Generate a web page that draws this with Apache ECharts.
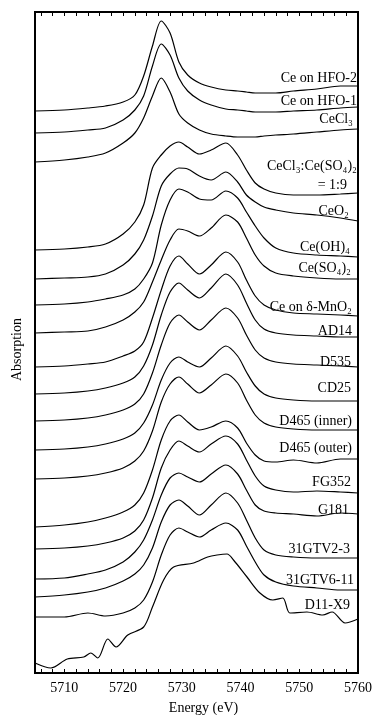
<!DOCTYPE html>
<html>
<head>
<meta charset="utf-8">
<script src="https://cdn.jsdelivr.net/npm/echarts@6/dist/echarts.min.js"></script>
<style>
  html, body { margin: 0; padding: 0; background: #fff; }
  #chart { width: 374px; height: 715px; }
</style>
</head>
<body>
<div id="chart"></div>
<script>
// Ce L3-edge XANES, stacked (arbitrary absorption units incl. offsets)
const energy = [5705, 5710, 5714, 5717, 5720, 5722, 5723.5, 5725, 5726.5, 5728, 5729.5, 5731,
                5733, 5735, 5737.5, 5739.5, 5741, 5742.5, 5744, 5746, 5749, 5753, 5757, 5760];

const hfo2     = [562, 563, 565, 567, 571, 578, 597, 627, 652, 640, 611, 598, 590, 586, 583, 582, 581, 580, 580, 580, 582, 584, 587, 587];
const hfo1     = [540, 541, 543, 545, 553, 563, 577, 607, 629, 618, 595, 582, 573, 568, 564, 563, 562, 561, 561, 561, 562, 563, 565, 566];
const cecl3    = [511, 513, 516, 520, 530, 540, 555, 577, 595, 581, 559, 550, 543, 539, 537, 536, 536, 536, 537, 538, 539, 541, 543, 544];
const mix19    = [423, 424, 426, 429, 439, 451, 468, 505, 518, 527, 531, 526, 519, 523, 530, 518, 503, 490, 484, 480, 478, 478, 479, 480];
const ceo2     = [394, 395, 396, 399, 408, 419, 433, 457, 487, 499, 505, 504, 497, 493, 501, 491, 478, 471, 466, 463, 460, 458, 455, 452];
const ceoh4    = [368, 369, 371, 374, 378, 384, 394, 410, 448, 473, 484, 481, 474, 473, 482, 475, 461, 447, 435, 425, 420, 418, 417, 416];
const ceso42   = [340, 341, 342, 346, 353, 361, 371, 391, 413, 433, 444, 442, 437, 445, 458, 451, 435, 418, 407, 400, 397, 395, 394, 394];
const mno2     = [306, 307, 309, 311, 317, 322, 331, 355, 383, 407, 417, 409, 399, 408, 421, 411, 393, 377, 368, 363, 360, 359, 358, 357];
const ad14     = [279, 280, 282, 285, 290, 296, 307, 328, 358, 381, 390, 383, 375, 385, 399, 388, 370, 353, 344, 340, 338, 337, 336, 336];
const d535     = [252, 253, 255, 258, 263, 269, 279, 300, 328, 350, 358, 351, 343, 353, 365, 355, 338, 323, 315, 311, 309, 308, 307, 306];
const cd25     = [223, 224, 226, 229, 234, 240, 250, 268, 293, 310, 316, 311, 306, 315, 327, 317, 301, 287, 279, 275, 273, 272, 272, 272];
const d465in   = [194, 195, 197, 200, 205, 212, 222, 242, 271, 289, 296, 289, 280, 288, 299, 290, 273, 258, 250, 246, 244, 243, 243, 243];
const d465out  = [146, 148, 151, 155, 161, 168, 180, 203, 233, 252, 258, 251, 243, 246, 252, 245, 230, 218, 212, 211, 213, 210, 214, 214];
const fg352    = [124, 125, 127, 130, 135, 142, 153, 175, 205, 223, 232, 227, 221, 229, 237, 229, 213, 197, 187, 183, 181, 182, 181, 180];
const g181     = [94, 95, 99, 103, 111, 121, 133, 153, 178, 195, 200, 196, 191, 199, 208, 199, 183, 168, 162, 160, 159, 157, 160, 159];
const gtv23    = [76, 78, 81, 85, 92, 99, 108, 125, 151, 168, 173, 167, 158, 168, 180, 170, 153, 135, 123, 118, 116, 115, 115, 115];
const gtv611   = [56, 56, 60, 57, 60, 65, 73, 91, 118, 138, 145, 141, 136, 143, 150, 143, 127, 111, 98, 91, 87, 85, 83, 83];

// D11-X9 is noisy, sampled on its own grid
const d11Energy = [5705, 5707.7, 5710.5, 5713.3, 5714.5, 5715.7, 5717.4, 5718.8, 5720.8, 5723.5, 5725, 5726.9, 5728.6, 5732,
                   5734.4, 5736, 5737.7, 5738.8, 5741.1, 5743.3, 5745.5, 5747.2, 5748.4, 5751.3, 5754, 5755.6, 5757.8, 5760];
const d11x9     = [10, 5, 14, 16, 20, 15, 34, 26, 38, 46, 66, 93, 106, 110,
                   116, 118, 119, 113, 96, 80, 73, 75, 60, 61, 58, 61, 50, 54];

const majorTicks = [5710, 5720, 5730, 5740, 5750, 5760];
const minorTicks = [5706, 5708, 5710, 5712, 5714, 5716, 5718, 5720, 5722, 5724, 5726, 5728, 5730, 5732,
                    5734, 5736, 5738, 5740, 5742, 5744, 5746, 5748, 5750, 5752, 5754, 5756, 5758];

const spectra = [
  { name: 'Ce on HFO-2', x: energy, y: hfo2 },
  { name: 'Ce on HFO-1', x: energy, y: hfo1 },
  { name: 'CeCl3', x: energy, y: cecl3 },
  { name: 'CeCl3:Ce(SO4)2 = 1:9', x: energy, y: mix19 },
  { name: 'CeO2', x: energy, y: ceo2 },
  { name: 'Ce(OH)4', x: energy, y: ceoh4 },
  { name: 'Ce(SO4)2', x: energy, y: ceso42 },
  { name: 'Ce on d-MnO2', x: energy, y: mno2 },
  { name: 'AD14', x: energy, y: ad14 },
  { name: 'D535', x: energy, y: d535 },
  { name: 'CD25', x: energy, y: cd25 },
  { name: 'D465 (inner)', x: energy, y: d465in },
  { name: 'D465 (outer)', x: energy, y: d465out },
  { name: 'FG352', x: energy, y: fg352 },
  { name: 'G181', x: energy, y: g181 },
  { name: '31GTV2-3', x: energy, y: gtv23 },
  { name: '31GTV6-11', x: energy, y: gtv611 },
  { name: 'D11-X9', x: d11Energy, y: d11x9 }
];

// curve labels: text, right edge x, middle y (px)
const labels = [
  ['Ce on HFO-2', 357, 78],
  ['Ce on HFO-1', 357, 101],
  ['CeCl₃', 353, 119],
  ['CeCl₃:Ce(SO₄)₂', 357, 166],
  ['= 1:9', 347, 185],
  ['CeO₂', 349, 211],
  ['Ce(OH)₄', 350, 247],
  ['Ce(SO₄)₂', 351, 268],
  ['Ce on δ-MnO₂', 352, 307],
  ['AD14', 352, 331],
  ['D535', 351, 362],
  ['CD25', 351, 388],
  ['D465 (inner)', 352, 421],
  ['D465 (outer)', 352, 448],
  ['FG352', 351, 482],
  ['G181', 349, 510],
  ['31GTV2-3', 350, 549],
  ['31GTV6-11', 354, 580],
  ['D11-X9', 350, 605]
];

const FONT = "'Liberation Serif', 'Times New Roman', serif";

const chart = echarts.init(document.getElementById('chart'));
const option = {
  animation: false,
  grid: {
    left: 35, right: 16, top: 12, bottom: 42,
    outerBoundsMode: 'none',
    containLabel: false,
    show: true, borderColor: '#000', borderWidth: 2, backgroundColor: 'transparent'
  },
  xAxis: [
    {
      type: 'value',
      min: 5705,
      max: 5760,
      position: 'bottom',
      name: 'Energy (eV)',
      nameLocation: 'middle',
      nameGap: 28,
      nameTextStyle: { fontFamily: FONT, fontSize: 14, color: '#000', padding: [0, 0, 0, 14] },
      axisLine: { show: false },
      axisTick: { show: true, inside: true, length: 4, customValues: minorTicks, lineStyle: { color: '#000', width: 1 } },
      axisLabel: {
        customValues: majorTicks,
        margin: 8,
        fontFamily: FONT,
        fontSize: 14,
        color: '#000',
        formatter: v => String(v)
      },
      splitLine: { show: false }
    },
    {
      type: 'value',
      min: 5705,
      max: 5760,
      position: 'top',
      axisLine: { show: false },
      axisTick: { show: true, inside: true, length: 4, customValues: minorTicks, lineStyle: { color: '#000', width: 1 } },
      axisLabel: { show: false },
      splitLine: { show: false }
    }
  ],
  yAxis: {
    type: 'value',
    min: 0,
    max: 661,
    name: 'Absorption',
    nameLocation: 'middle',
    nameGap: 11,
    nameRotate: 90,
    nameTextStyle: { fontFamily: FONT, fontSize: 14, color: '#000', padding: [0, 14, 0, 0] },
    axisLine: { show: false },
    axisTick: { show: false },
    axisLabel: { show: false },
    splitLine: { show: false }
  },
  series: spectra.map(s => ({
    name: s.name,
    type: 'line',
    xAxisIndex: 0,
    data: s.x.map((e, i) => [e, s.y[i]]),
    showSymbol: false,
    smooth: 0.3,
    silent: true,
    lineStyle: { color: '#000', width: 1.2 }
  })),
  graphic: labels.map(l => ({
    type: 'text',
    x: l[1],
    y: l[2],
    silent: true,
    style: {
      text: l[0],
      font: '14px ' + FONT,
      fill: '#000',
      textAlign: 'right',
      textVerticalAlign: 'middle',
      align: 'right',
      verticalAlign: 'middle'
    }
  }))
};
chart.setOption(option);
window.addEventListener('resize', () => chart.resize());
</script>
</body>
</html>
